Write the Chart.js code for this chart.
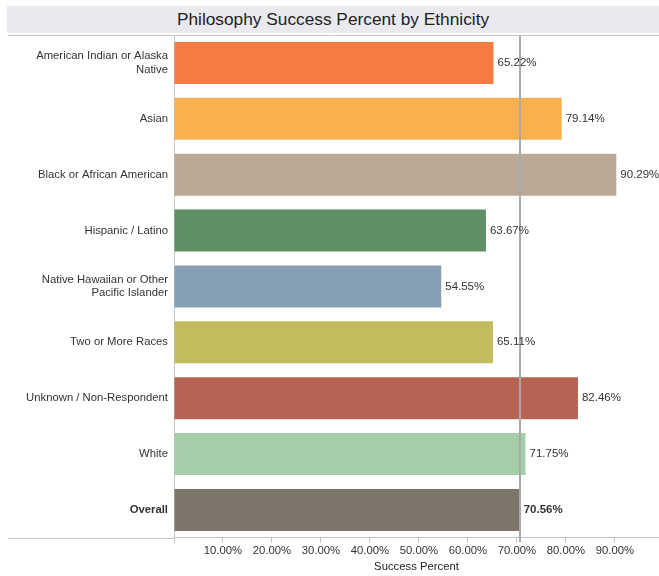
<!DOCTYPE html>
<html>
<head>
<meta charset="utf-8">
<script src="https://cdn.jsdelivr.net/npm/chart.js@4"></script>
<style>
  body { margin: 0; background: #fff; font-family: "Liberation Sans", Arial, Helvetica, sans-serif; }
  #titulo {
    position: absolute; left: 7px; top: 6px; width: 652px; height: 27px;
    background: #e9e9ee; color: #222; font-size: 17.3px; line-height: 27px; text-align: center;
  }
  #wrap { position: absolute; left: 0; top: 34px; width: 659px; height: 542px; }
</style>
</head>
<body>
<div id="titulo">Philosophy Success Percent by Ethnicity</div>
<div id="wrap"><canvas id="grafico"></canvas></div>
<script>
const categorias = [
  ["American Indian or Alaska", "Native"],
  "Asian",
  "Black or African American",
  "Hispanic / Latino",
  ["Native Hawaiian or Other", "Pacific Islander"],
  "Two or More Races",
  "Unknown / Non-Respondent",
  "White",
  "Overall"
];
const percentuais = [65.22, 79.14, 90.29, 63.67, 54.55, 65.11, 82.46, 71.75, 70.56];
const cores = ["#f57b44", "#f9b04f", "#baa997", "#5f8f64", "#869fb5", "#c2bc5e", "#b66353", "#a3cea9", "#7d746a"];
const valorGeral = 70.56;
const ticksX = [10, 20, 30, 40, 50, 60, 70, 80, 90];

const fonte = "'Liberation Sans', Arial, Helvetica, sans-serif";
const ultimo = categorias.length - 1;

// linhas da moldura, linha de referencia e rotulos
const extras = {
  id: "extras",
  afterDatasetsDraw(chart) {
    const { ctx, chartArea, scales } = chart;
    ctx.save();
    ctx.strokeStyle = "#c4c4c4";
    ctx.lineWidth = 1;
    ctx.beginPath();
    ctx.moveTo(8, chartArea.top + 0.5);
    ctx.lineTo(chartArea.right, chartArea.top + 0.5);
    ctx.moveTo(8, chartArea.bottom + 0.5);
    ctx.lineTo(chartArea.left, chartArea.bottom + 0.5);
    ctx.stroke();

    const xr = Math.round(scales.x.getPixelForValue(valorGeral));
    ctx.strokeStyle = "#a9a9a9";
    ctx.lineWidth = 2;
    ctx.beginPath();
    ctx.moveTo(xr, chartArea.top);
    ctx.lineTo(xr, chartArea.bottom + 4);
    ctx.stroke();

    ctx.fillStyle = "#333";
    ctx.textBaseline = "middle";
    ctx.textAlign = "left";
    chart.getDatasetMeta(0).data.forEach((bar, i) => {
      ctx.font = (i === ultimo ? "bold " : "") + "11.5px " + fonte;
      ctx.fillText(percentuais[i].toFixed(2) + "%", bar.x + 4, bar.y);
    });
    ctx.restore();
  }
};

const ctx = document.getElementById("grafico").getContext("2d");
new Chart(ctx, {
  type: "bar",
  data: {
    labels: categorias,
    datasets: [{
      data: percentuais,
      backgroundColor: cores,
      categoryPercentage: 1,
      barPercentage: 0.75
    }]
  },
  plugins: [extras],
  options: {
    indexAxis: "y",
    responsive: true,
    maintainAspectRatio: false,
    animation: false,
    layout: { padding: { left: 8, top: 1, right: 0, bottom: 2 } },
    plugins: {
      legend: { display: false },
      tooltip: { enabled: false }
    },
    scales: {
      y: {
        afterFit: (s) => { s.width = 166; s.paddingTop = 0; s.paddingBottom = 0; },
        grid: { display: false, drawTicks: false },
        border: { display: true, color: "#c4c4c4" },
        ticks: {
          color: "#333",
          padding: 6,
          font: (c) => ({ family: fonte, size: 11.3, weight: c.index === ultimo ? "bold" : "normal" })
        }
      },
      x: {
        min: 0,
        max: 99,
        grid: { drawOnChartArea: false, tickLength: 5, color: "#c4c4c4" },
        border: { display: true, color: "#c4c4c4" },
        afterBuildTicks: (s) => { s.ticks = [0].concat(ticksX).map(v => ({ value: v })); },
        ticks: {
          color: "#333",
          padding: 1,
          maxRotation: 0,
          autoSkip: false,
          font: { family: fonte, size: 11.3 },
          callback: (v) => v === 0 ? "" : v.toFixed(2) + "%"
        },
        title: {
          display: true,
          text: "Success Percent",
          color: "#222",
          padding: { top: 2, bottom: 0 },
          font: { family: fonte, size: 11.3 }
        }
      }
    }
  }
});
</script>
</body>
</html>
